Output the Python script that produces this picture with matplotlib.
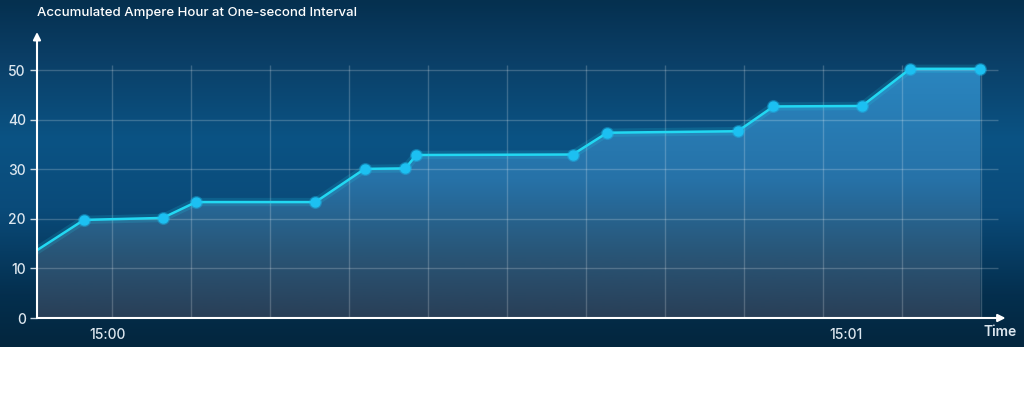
import numpy as np
import matplotlib.pyplot as plt
from matplotlib.colors import LinearSegmentedColormap

plt.rcParams['font.family'] = ['Inter', 'DejaVu Sans']

# time in seconds relative to 15:00:00, accumulated Ah
seconds = [-5.7, -1.9, 4.5, 7.2, 16.9, 20.9, 24.2, 25.1, 37.8, 40.6, 51.2, 54.1, 61.3, 65.2, 70.9]
amp_hours = [13.7, 19.8, 20.2, 23.4, 23.4, 30.1, 30.2, 32.9, 33.0, 37.4, 37.7, 42.7, 42.8, 50.3, 50.3]

x_ticks = [0, 60]
x_labels = ['15:00', '15:01']
y_ticks = [0, 10, 20, 30, 40, 50]

line_color = '#22d8f2'
marker_color = '#1cc0f2'
text_color = '#dce6ee'

fig = plt.figure(figsize=(10.24, 4.18), dpi=100)
fig.patch.set_facecolor('white')

# dark blue backdrop (top 347 px)
bg = fig.add_axes([0, 71 / 418, 1, 347 / 418], zorder=0)
bg_cmap = LinearSegmentedColormap.from_list('bg', [
    (0.0, '#05304f'), (0.15, '#0a3d64'), (0.4, '#0b5384'),
    (0.6, '#0a4b7a'), (0.85, '#042f4e'), (1.0, '#03263e')])
bg.imshow(np.linspace(0, 1, 256)[:, None], aspect='auto', cmap=bg_cmap,
          extent=(0, 1, 0, 1))
bg.axis('off')

ax = fig.add_axes([37 / 1024, 100 / 418, 971 / 1024, 286 / 418], zorder=1)
ax.patch.set_alpha(0)
x0, x1 = -5.71, 73.15
ax.set_xlim(x0, x1)
ax.set_ylim(0, 57.73)

# gradient area fill
poly = ax.fill_between(seconds, amp_hours, 0, color='none', lw=0)
fill_cmap = LinearSegmentedColormap.from_list('fill', [
    (0.0, '#293f57'), (0.25, '#295576'), (0.55, '#2672a8'), (1.0, '#2a86c0')])
img = ax.imshow(np.linspace(0, 1, 256)[:, None], aspect='auto', cmap=fill_cmap,
                origin='lower', extent=(x0, x1, 0, 51), zorder=2)
img.set_clip_path(poly.get_paths()[0], transform=ax.transData)

# grid drawn over the fill
grid_x = 0.41 + 6.414 * np.arange(12)
ax.vlines(grid_x, 0, 51.1, color='white', alpha=0.2, lw=1, zorder=3)
ax.hlines(y_ticks[1:], x0, 72.35, color='white', alpha=0.2, lw=1, zorder=3)

# line with a soft glow
ax.plot(seconds, amp_hours, color=line_color, lw=6, alpha=0.15, zorder=4)
ax.plot(seconds, amp_hours, color=line_color, lw=1.8, zorder=5)
ax.plot(seconds[1:], amp_hours[1:], 'o', ms=8.5, color=marker_color, alpha=0.3, zorder=6)
ax.plot(seconds[1:], amp_hours[1:], 'o', ms=6.5, color=marker_color, zorder=7)

for s in ax.spines.values():
    s.set_visible(False)

# axis arrows
ax.annotate('', xy=(0.9975, 0), xytext=(0, 0), xycoords='axes fraction',
            arrowprops=dict(arrowstyle='-|>', color='white', lw=1.5, mutation_scale=11,
                            shrinkA=0, shrinkB=0), zorder=8)
ax.annotate('', xy=(0, 1), xytext=(0, 0), xycoords='axes fraction',
            arrowprops=dict(arrowstyle='-|>', color='white', lw=1.5, mutation_scale=11,
                            shrinkA=0, shrinkB=0), zorder=8)

ax.set_yticks(y_ticks)
ax.set_xticks(x_ticks)
ax.set_xticklabels(x_labels)
ax.tick_params(axis='y', colors=text_color, labelsize=10, length=5, width=1, pad=3)
ax.tick_params(axis='y', color='#c9d6e0')
ax.tick_params(axis='x', colors=text_color, labelsize=10, length=0, pad=7)
for lbl in ax.get_xticklabels() + ax.get_yticklabels():
    lbl.set_fontweight('medium')

ax.annotate('Time', xy=(0.992, 0), xycoords='axes fraction', xytext=(0, -14),
            textcoords='offset pixels', ha='center', va='center',
            color=text_color, fontsize=10, fontweight='semibold')

fig.text(37 / 1024, 1 - 13 / 418, 'Accumulated Ampere Hour at One-second Interval',
         ha='left', va='center', color='white', fontsize=9.5, fontweight='medium')

fig.savefig('out.png', dpi=100)
